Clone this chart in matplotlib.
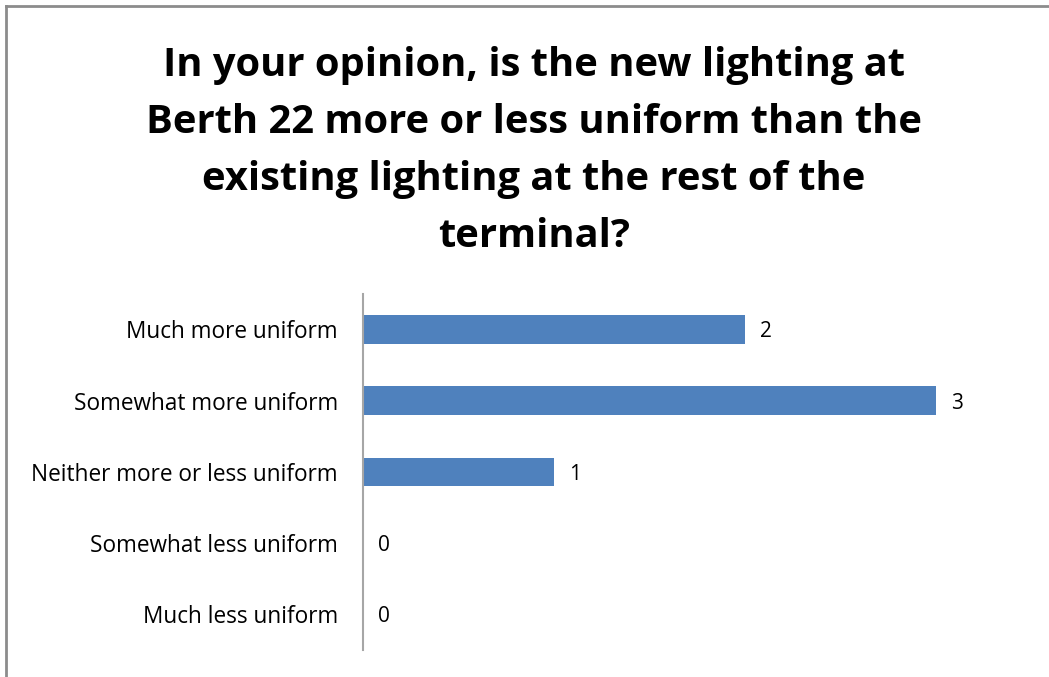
import matplotlib.pyplot as plt
from matplotlib.lines import Line2D

categories = ['Much more uniform', 'Somewhat more uniform', 'Neither more or less uniform',
              'Somewhat less uniform', 'Much less uniform']
values = [2, 3, 1, 0, 0]

plt.rcParams['font.family'] = ['Open Sans', 'DejaVu Sans']

fig = plt.figure(figsize=(10.49, 6.77), dpi=100)
ax = fig.add_axes([0.346, 0.04, 0.637, 0.526])

ypos = list(range(len(categories)))
ax.barh(ypos, values, height=0.4, color='#4F81BD')
for y, v in zip(ypos, values):
    ax.text(v + 0.08, y, str(v), va='center_baseline', ha='left', fontsize=15, color='#000000')

ax.set_yticks(ypos)
ax.set_yticklabels(categories, fontsize=16.3)
ax.set_ylim(4.5, -0.5)
ax.set_xlim(0, 3.5)
ax.set_xticks([])
ax.tick_params(axis='y', length=0, pad=18)
for s in ['top', 'right', 'bottom']:
    ax.spines[s].set_visible(False)
ax.spines['left'].set_color('#A6A6A6')
ax.spines['left'].set_linewidth(1.5)

fig.text(0.509, 0.777, 'In your opinion, is the new lighting at\nBerth 22 more or less uniform than the\n'
         'existing lighting at the rest of the\nterminal?', ha='center', va='center',
         fontsize=28.7, fontweight='bold', linespacing=1.61)

# outer frame (top and left edges visible)
fig.add_artist(Line2D([6 / 1049, 6 / 1049], [0, 1 - 6 / 677], transform=fig.transFigure,
                      color='#8C8C8C', linewidth=2))
fig.add_artist(Line2D([6 / 1049, 1], [1 - 6 / 677, 1 - 6 / 677], transform=fig.transFigure,
                      color='#8C8C8C', linewidth=2))

plt.savefig('out.png', dpi=100)
